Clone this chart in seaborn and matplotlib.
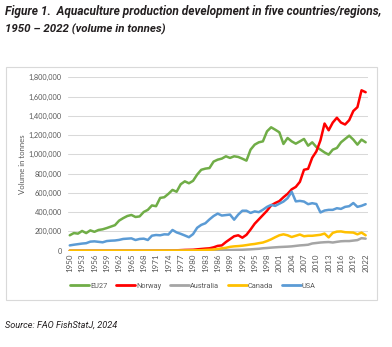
import numpy as np
import pandas as pd
import matplotlib
matplotlib.use("Agg")
import matplotlib.pyplot as plt
from matplotlib.patches import Rectangle
import seaborn as sns

# ---------------- data (tonnes, in thousands) ----------------
years = list(range(1950, 2023))

eu27 = [160, 183, 177, 205, 183, 211, 196, 215, 222, 235,
        250, 265, 312, 338, 360, 371, 350, 356, 402, 424,
        470, 462, 548, 555, 590, 631, 612, 690, 720, 700,
        725, 790, 840, 852, 858, 925, 945, 956, 980, 963,
        980, 973, 955, 935, 1049, 1101, 1125, 1135, 1239, 1281,
        1256, 1229, 1108, 1170, 1135, 1111, 1135, 1160, 1090, 1125,
        1077, 1049, 1020, 997, 1049, 1066, 1125, 1160, 1194, 1153,
        1101, 1153, 1125]

norway = [0, 0, 0, 0, 0, 0, 0, 0, 0, 0,
          0, 0, 0, 0, 0, 0, 0, 0, 0, 0,
          0.5, 1, 1.5, 2, 2.5, 3, 4, 6, 8, 9,
          10, 14, 18, 22, 25, 35, 50, 55, 90, 120,
          150, 160, 135, 165, 220, 280, 325, 370, 415, 470,
          495, 515, 555, 590, 637, 662, 715, 840, 850, 965,
          1030, 1145, 1320, 1250, 1330, 1380, 1330, 1310, 1355, 1450,
          1490, 1665, 1645]

australia = [0, 0, 0, 0, 0, 0, 0, 0, 0, 0,
             0, 0, 0, 0, 0, 0, 0, 0, 0, 0,
             0.5, 0.5, 0.6, 0.7, 0.8, 1, 1, 1.2, 1.5, 1.8,
             2, 2.2, 2.5, 3, 3.5, 4, 4.5, 5, 6, 7,
             8, 9, 10, 12, 14, 17, 20, 25, 28, 32,
             35, 38, 40, 42, 45, 50, 55, 58, 62, 75,
             80, 85, 88, 90, 85, 92, 98, 100, 100, 105,
             110, 130, 125]

canada = [0, 0, 0, 0, 0, 0, 0, 0, 0, 0,
          0, 0, 0, 0, 0, 0, 0, 0, 0, 0,
          0.5, 0.5, 0.6, 0.7, 0.8, 1, 1, 1.2, 1.5, 2,
          3, 4, 5, 8, 10, 12, 18, 25, 30, 40,
          45, 48, 52, 58, 65, 70, 78, 85, 100, 118,
          140, 160, 170, 160, 142, 155, 168, 150, 155, 155,
          160, 165, 178, 138, 185, 198, 200, 192, 190, 188,
          170, 188, 160]

usa = [55, 62, 68, 74, 78, 94, 97, 92, 87, 100,
       104, 106, 112, 122, 125, 128, 111, 122, 125, 111,
       156, 163, 160, 170, 168, 215, 190, 175, 158, 140,
       172, 238, 268, 285, 325, 360, 385, 365, 370, 375,
       322, 375, 415, 415, 392, 408, 400, 425, 455, 475,
       465, 488, 510, 545, 612, 512, 517, 510, 483, 493,
       485, 397, 417, 424, 424, 441, 434, 455, 462, 495,
       455, 466, 483]

series_names = ["EU27", "Norway", "Australia", "Canada", "USA"]
series_values = [eu27, norway, australia, canada, usa]
series_colors = ["#70AD47", "#FF0000", "#A5A5A5", "#FFC000", "#5B9BD5"]

y_ticks = list(range(0, 1800001, 200000))
x_tick_years = years[::3]

title_line1 = "Figure 1.  Aquaculture production development in five countries/regions,"
title_line2 = "1950 \u2013 2022 (volume in tonnes)"
source_text = "Source: FAO FishStatJ, 2024"
y_label = "Volume in tonnes"

# ---------------- build table ----------------
rows = []
for name, vals in zip(series_names, series_values):
    for yr, v in zip(years, vals):
        rows.append({"Year": yr, "Volume": v * 1000.0, "Series": name})
df = pd.DataFrame(rows)

# ---------------- figure ----------------
sns.set_theme(style="white")
plt.rcParams["font.family"] = ["Lato", "DejaVu Sans"]

W, H = 392, 347
fig = plt.figure(figsize=(W / 100, H / 100), dpi=100)
fig.patch.set_facecolor("white")

ax_l, ax_r, ax_t, ax_b = 67.7, 367.7, 77.3, 250.7
ax = fig.add_axes([ax_l / W, 1 - ax_b / H, (ax_r - ax_l) / W, (ax_b - ax_t) / H])

palette = dict(zip(series_names, series_colors))
sns.lineplot(data=df, x="Year", y="Volume", hue="Series", hue_order=series_names,
             palette=palette, linewidth=1.8, ax=ax, estimator=None,
             solid_joinstyle="round", solid_capstyle="round")

ax.set_xlim(years[0] - 0.5, years[-1] + 0.5)
ax.set_ylim(0, 1800000)
ax.set_yticks(y_ticks)
ax.set_yticklabels([f"{v:,}" for v in y_ticks])
ax.set_xticks(x_tick_years)
ax.set_xticklabels([str(y) for y in x_tick_years], rotation=90)
ax.tick_params(axis="both", length=0, labelcolor="#595959")
ax.tick_params(axis="y", pad=4.2, labelsize=5.3)
ax.tick_params(axis="x", pad=1.8, labelsize=5.8)
ax.grid(axis="y", color="#D9D9D9", linewidth=0.75)
ax.grid(axis="x", visible=False)
ax.set_axisbelow(True)
for s in ax.spines.values():
    s.set_visible(False)
ax.set_xlabel("")
ax.set_ylabel("")

fig.text(22.7 / W, 1 - 164 / H, y_label, rotation=90, ha="center", va="center",
         fontsize=5.6, color="#595959")

# legend
leg_x = (193 - ax_l) / (ax_r - ax_l)
leg_y = (ax_b - 286) / (ax_b - ax_t)
sns.move_legend(ax, "center", bbox_to_anchor=(leg_x, leg_y), ncol=5, frameon=False,
                title=None, handlelength=2.6, handletextpad=0.1,
                columnspacing=1.2, borderaxespad=0,
                prop={"family": ["Roboto", "DejaVu Sans"], "size": 5.3})
leg = ax.get_legend()
for t in leg.get_texts():
    t.set_color("#595959")
for h in leg.legend_handles:
    h.set_linewidth(2.0)

# chart border
fig.add_artist(Rectangle((6 / W, 1 - 300 / H), 371 / W, 233 / H, transform=fig.transFigure,
                         fill=False, edgecolor="#D9D9D9", linewidth=0.8))

# titles, auto-fit to widths measured on the reference
renderer = fig.canvas.get_renderer()


def fit_text(x_px, base_px, s, target_w, **kw):
    t = fig.text(x_px / W, 1 - base_px / H, s, fontsize=10, va="baseline", ha="left", **kw)
    w = t.get_window_extent(renderer).width
    t.set_fontsize(10 * target_w / w)
    return t


title_family = ["Roboto", "DejaVu Sans"]
fit_text(5, 15.3, title_line1, 375, family=title_family, weight="bold", style="italic",
         color="#231F20")
fit_text(5, 32.3, title_line2, 160, family=title_family, weight="bold", style="italic",
         color="#231F20")
fit_text(5, 327.5, source_text, 112, family=title_family, style="italic",
         color="#231F20")

fig.savefig("out.png", dpi=100, facecolor="white")
